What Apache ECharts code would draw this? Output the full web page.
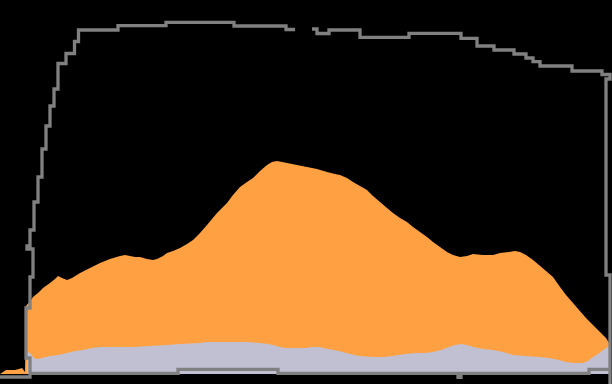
<!DOCTYPE html>
<html>
<head>
<meta charset="utf-8">
<script src="https://cdn.jsdelivr.net/npm/echarts@6/dist/echarts.min.js"></script>
<style>html,body{margin:0;padding:0;background:#000;}#c{width:612px;height:384px;}</style>
</head>
<body>
<div id="c"></div>
<script>
// x: sample position, y: level above baseline
var orangeTop = [
  [0,0],[3,2],[6,4],[10,4],[15,4],[19,5],[22,6],[24,4],[25,2],
  [26,68],[31,74],[33,77],[38,81],[43,86],[50,91],[55,95],[58,98],[62,96],[67,94],[72,96],
  [80,101],[90,106],[100,111],[110,115],[120,118],[125,119],[130,118],[135,117],[140,117],
  [147,115],[153,114],[157,115],[163,118],[167,121],[173,123],[180,126],[187,130],[193,134],
  [200,141],[207,149],[212,155],[217,161],[222,166],[227,171],[233,179],[240,187],[247,192],
  [253,196],[260,203],[267,209],[272,212],[277,213],[282,212],[287,211],[297,209],[307,207],
  [317,205],[327,202],[335,200],[340,199],[347,196],[353,192],[360,188],[367,184],[373,178],
  [380,172],[387,166],[393,161],[400,156],[407,152],[413,147],[420,142],[427,137],[433,132],
  [440,127],[447,122],[453,119],[460,117],[467,118],[473,120],[483,119],[493,119],[500,121],
  [509,122],[515,123],[520,122],[526,119],[533,114],[539,109],[546,103],[553,97],[560,87],
  [566,79],[573,71],[579,64],[586,56],[593,49],[600,42],[606,36],[609,31],[611,28]
];
var lavenderTop = [
  [27,22],[30,21],[34,16],[37,15],[42,16],[50,18],[58,19],[67,21],[75,23],[83,24],[92,26],
  [100,27],[117,27],[133,27],[150,28],[167,29],[180,30],[200,31],[207,32],[220,32],[233,32],
  [247,32],[260,31],[268,30],[273,29],[280,27],[285,26],[295,26],[306,26],[312,27],[319,27],
  [328,25],[339,23],[350,20],[359,18],[373,17],[383,17],[393,18],[405,20],[416,21],[425,21],
  [433,22],[441,24],[449,27],[455,29],[461,30],[467,29],[473,27],[483,25],[493,24],[503,22],
  [513,19],[526,18],[539,17],[549,16],[559,14],[566,12],[573,11],[583,11],[588,13],[593,17],
  [598,20],[603,24],[608,27],[611,28]
];
var rangeOutline = [
  [0,-3],[30,-3],[30,16],[26,16],[26,66],[30,66],[30,97],[33,97],[33,125],[27,125],[27,128],
  [30,128],[30,144],[34,144],[34,172],[38,172],[38,197],[42,197],[42,225],[46,225],[46,248],
  [50,248],[50,268],[54,268],[54,285],[58,285],[58,310.5],[66,310.5],[66,320.5],[74.5,320.5],
  [74.5,332.5],[78.5,332.5],[78.5,344],[118,344],[118,348.3],[166,348.3],[166,351.7],
  [234,351.7],[234,348],[286,348],[286,344.5],[295,344.5],[303,'-'],
  [312,345],[317,345],[317,340.5],[329,340.5],[329,344],[360,344],[360,336.7],[409,336.7],
  [409,340.7],[461,340.7],[461,335.7],[477,335.7],[477,328],[494,328],[494,324],[514,324],
  [514,320],[526,320],[526,316],[533,316],[533,312.3],[540,312.3],[540,308],[572,308],
  [572,303],[602,303],[602,299.5],[610,299.5],[610,295],[606,295],[606,99],[610,99],
  [610,-10],[610,4.7],[589,4.7],[589,0.7],[461,0.7],[461,-3.3],[458,-3.3],[458,0.7],
  [278,0.7],[278,4.7],[178,4.7],[178,0.7],[30,0.7]
];

var chart = echarts.init(document.getElementById('c'), null, {renderer: 'canvas'});
chart.setOption({
  animation: false,
  backgroundColor: '#000000',
  grid: {left: 0, right: 0, top: 0, bottom: 0, containLabel: false},
  xAxis: {type: 'value', min: 0, max: 612, show: false},
  yAxis: {type: 'value', min: -10, max: 374, show: false},
  series: [
    {
      type: 'line', data: orangeTop, symbol: 'none', z: 1,
      lineStyle: {width: 0, color: '#ffa142'},
      areaStyle: {color: '#ffa142', opacity: 1}
    },
    {
      type: 'line', data: lavenderTop, symbol: 'none', z: 2,
      lineStyle: {width: 0, color: '#c0c0d2'},
      areaStyle: {color: '#c0c0d2', opacity: 1}
    },
    {
      type: 'line', data: rangeOutline, symbol: 'none', z: 3, connectNulls: false,
      lineStyle: {width: 3.3, color: '#808080', join: 'miter', cap: 'butt'}
    }
  ]
});
</script>
</body>
</html>
